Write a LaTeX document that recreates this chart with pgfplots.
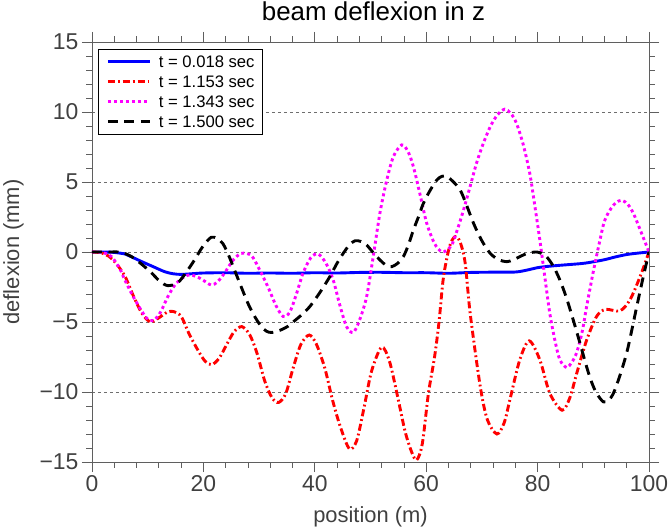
\documentclass[border=0pt]{standalone}
\usepackage{fontspec}
\setmainfont{Liberation Sans}
\usepackage{pgfplots}
\pgfplotsset{compat=1.18}
\usetikzlibrary{calc}
\definecolor{axgray}{RGB}{95,95,95}
\definecolor{lblgray}{RGB}{64,64,64}
\definecolor{gridgray}{RGB}{110,110,110}
\definecolor{cblue}{RGB}{0,0,255}
\definecolor{cred}{RGB}{255,0,0}
\definecolor{cmag}{RGB}{255,0,255}
\begin{document}
\begin{tikzpicture}
\begin{axis}[
    name=ax,
    width=557bp, height=420bp, scale only axis,
    xmin=0, xmax=100, ymin=-15, ymax=15,
    xtick={0,20,40,60,80,100}, xticklabels={0,20,40,60,80,100},
    ytick={-15,-10,-5,0,5,10,15}, yticklabels={−15,−10,−5,0,5,10,15},
    minor x tick num=4, minor y tick num=4,
    tick align=outside,
    major tick length=10bp, minor tick length=5.5bp,
    tick style={axgray, line width=0.8bp},
    axis line style={axgray, line width=0.8bp},
    tick label style={font=\fontsize{23}{23}\selectfont, text=lblgray},
    ymajorgrids=true,
    grid style={gridgray, line width=0.6bp, dash pattern=on 3bp off 3bp},
    title={beam deflexion in z},
    every axis title/.style={at={(axis description cs:0.5,1.05)}, anchor=base, xshift=3bp,
        font=\fontsize{26}{26}\selectfont},
    xlabel={position (m)},
    ylabel={deflexion (mm)},
    every axis x label/.style={at={(axis description cs:0.5,-0.143)}, anchor=base,
        font=\fontsize{22}{22}\selectfont, text=lblgray},
    every axis y label/.style={at={(axis description cs:-0.131,0.5)}, rotate=90, anchor=base,
        font=\fontsize{22}{22}\selectfont, text=lblgray},
    legend style={at={(axis description cs:0.011,0.983)}, anchor=north west,
        draw=black, fill=white,
        font=\fontsize{16.7}{20}\selectfont,
        inner xsep=8bp, inner ysep=2.5bp, column sep=7.7bp, row sep=0bp,
        nodes={inner sep=0pt, text height=16bp, text depth=4bp}},
    legend cell align=left,
    legend image code/.code={\draw[#1] (0bp,0bp) -- (41.6bp,0bp);},
    legend image post style={line width=3.2bp},
]
\addplot[color=cblue, line width=2.9bp, smooth] coordinates {
(0,0)(2,0)(4,-0.03)(6,-0.15)(7,-0.33)(9,-0.7)(11,-1.05)(13,-1.4)(14.5,-1.55)(16,-1.6)
(18,-1.55)(20,-1.5)(24,-1.48)(28,-1.52)(32,-1.5)(36,-1.52)(40,-1.48)(44,-1.5)(48,-1.46)
(52,-1.45)(56,-1.48)(60,-1.48)(64,-1.52)(68,-1.46)(72,-1.44)(76,-1.43)(78,-1.3)(80,-1.12)
(82,-1.02)(84,-0.95)(88,-0.82)(90,-0.7)(92,-0.55)(94,-0.35)(96,-0.18)(98,-0.08)(100,0)
};
\addlegendentry{t = 0.018 sec}
\addplot[color=cred, line width=2.9bp, smooth, dash pattern=on 7bp off 3bp on 1.8bp off 3bp] coordinates {
(0,0)(1.5,-0.05)(3,-0.3)(4.5,-0.9)(6,-1.8)(7.5,-3.2)(9,-4.4)(10.5,-5.0)(12,-4.7)(13.5,-4.3)
(14.6,-4.25)(16,-4.6)(17.5,-5.9)(19,-7.0)(20.3,-7.8)(21.5,-8.05)(22.8,-7.6)(24.2,-6.6)
(25.5,-5.7)(26.9,-5.33)(28.3,-5.9)(29.6,-7.2)(31,-9.2)(32.3,-10.4)(33.5,-10.75)(34.8,-10.1)
(36.1,-8.3)(37.5,-6.6)(39,-5.93)(40.3,-6.6)(41.8,-8.3)(43.2,-10.6)(44.6,-12.5)(46.2,-14.05)
(47.5,-13.5)(48.8,-11.2)(50.2,-8.5)(52,-6.8)(53.4,-7.8)(54.8,-10.2)(56.2,-12.8)(57.4,-14.3)
(58.3,-14.85)(59.3,-13.7)(60.4,-10.1)(61.5,-7.5)(62.3,-5.0)(63.1,-1.8)(64.2,0.4)(65.2,1.1)
(66.1,0.7)(67,-0.8)(67.9,-4.4)(69.7,-9.6)(71,-12)(72.7,-13)(74,-12.2)(75,-10.6)(76.8,-7.7)
(78.5,-6.35)(80.4,-7.7)(82.2,-10.1)(84.4,-11.3)(85.8,-10.4)(87,-8.7)(88.8,-6.3)(90.6,-4.6)
(92.2,-4.1)(94.8,-4.2)(96.6,-3.4)(98.4,-1.76)(100,0)
};
\addlegendentry{t = 1.153 sec}
\addplot[color=cmag, line width=2.9bp, smooth, dash pattern=on 3bp off 3bp] coordinates {
(0,0)(2,-0.05)(3.5,-0.33)(5,-1.2)(5.9,-2.0)(7.7,-3.4)(9.75,-4.7)(11,-4.9)(12.3,-4.3)(13.6,-3.2)
(15,-2.3)(16.6,-1.76)(17.8,-1.64)(19.5,-1.9)(21.4,-2.36)(22.6,-2.1)(23.8,-1.5)(25.3,-0.6)
(26.8,-0.1)(28.6,-0.25)(30,-1.2)(31.6,-2.5)(33,-3.8)(34.3,-4.6)(35.5,-4.3)(36.7,-3.0)
(37.9,-1.5)(39.3,-0.4)(40.6,-0.14)(42,-0.8)(43.3,-2.0)(44.5,-3.8)(45.7,-5.33)(46.9,-5.75)
(48,-4.9)(49.3,-3.2)(50.5,-0.3)(51.7,2.8)(52.9,5.1)(54.1,6.8)(55.6,7.65)(56.7,7.2)(57.7,6.1)
(58.9,4.1)(60.1,2.05)(61.5,0.6)(62.8,0.0)(63.7,0.15)(64.6,0.5)(65.6,1.6)(66.7,3.0)(67.9,4.7)
(69,6.3)(70.2,7.7)(71.5,8.95)(72.8,9.8)(74.1,10.2)(75.2,9.9)(76.2,9.2)(77.4,7.7)(78.6,5.6)
(79.5,3.3)(80.4,0.86)(81.3,-1.8)(82.2,-4.4)(83.1,-6.3)(84,-7.7)(85.2,-8.25)(86.1,-7.9)
(87,-7.2)(88,-5.7)(88.8,-3.9)(90,-1.4)(91.2,0.86)(92,2.2)(93,3.0)(94,3.5)(95.1,3.7)
(96.2,3.4)(97.2,2.76)(98.5,1.5)(100,0)
};
\addlegendentry{t = 1.343 sec}
\addplot[color=black, line width=2.9bp, smooth, dash pattern=on 10bp off 6.5bp] coordinates {
(0,0)(3,0)(5.2,-0.02)(7.1,-0.33)(9,-0.9)(10.7,-1.5)(12.2,-2.1)(13.6,-2.4)(15.4,-2.2)(17,-1.4)
(18.4,-0.57)(19.9,0.4)(21.4,1.05)(22.5,0.95)(23.5,0.6)(24.6,-0.3)(25.6,-1.3)(26.8,-2.5)
(28,-3.67)(29.2,-4.6)(30.4,-5.33)(31.3,-5.65)(32.2,-5.75)(33.7,-5.6)(35.2,-5.3)(36.1,-5.0)
(37.6,-4.5)(39.1,-3.9)(40.9,-2.9)(42.7,-1.76)(44,-0.8)(45.1,-0.1)(46.2,0.5)(47.2,0.8)
(48.3,0.75)(49.3,0.5)(50.5,-0.05)(51.7,-0.57)(52.8,-0.95)(53.8,-1.05)(54.9,-0.8)(55.9,-0.33)
(56.8,0.5)(57.7,1.57)(58.6,2.5)(59.5,3.48)(60.7,4.4)(61.9,5.14)(62.8,5.4)(63.7,5.4)(64.9,5.0)
(66.1,4.43)(67.1,3.5)(68.5,2.05)(70,0.8)(71.5,-0.1)(73,-0.55)(74.5,-0.69)(75.7,-0.55)
(76.8,-0.33)(78.3,-0.08)(79.8,0.0)(80.7,-0.1)(81.6,-0.33)(82.8,-1.0)(84,-2.0)(85.2,-3.3)
(86.4,-4.86)(87.6,-6.5)(88.8,-8.2)(89.7,-9.3)(90.6,-10.1)(91.8,-10.7)(92.7,-10.6)(93.6,-10.1)
(94.8,-8.8)(96,-7.2)(96.9,-5.6)(97.8,-3.9)(98.9,-1.9)(100,0)
};
\addlegendentry{t = 1.500 sec}
\end{axis}
\pgfresetboundingbox
\useasboundingbox ($(ax.south west)+(-92bp,-69bp)$) rectangle ($(ax.north east)+(21bp,42bp)$);
\end{tikzpicture}
\end{document}
